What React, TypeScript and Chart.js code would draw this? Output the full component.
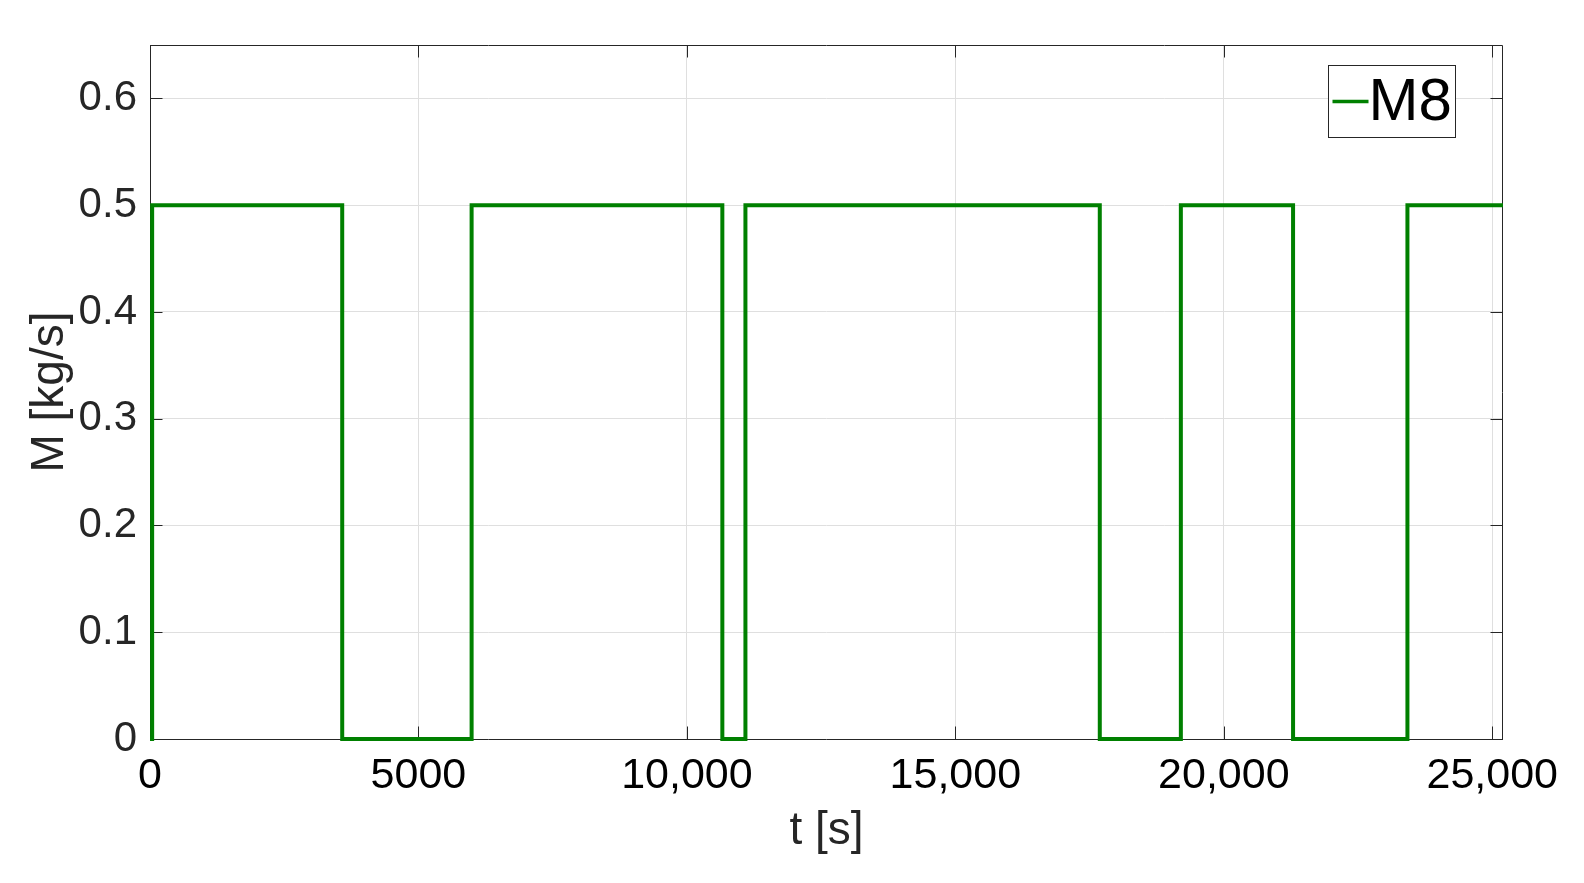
import React, { useEffect, useRef } from 'react';
import { Chart, registerables } from 'chart.js';

Chart.register(...registerables);

// ---- data ----
const seriesName = 'M8';
const times = [0, 40, 3580, 5990, 10660, 11090, 17690, 19200, 21290, 23420, 25200];
const values = [0, 0.5, 0, 0.5, 0, 0.5, 0, 0.5, 0, 0.5, 0.5];
const xTicks = [0, 5000, 10000, 15000, 20000, 25000];
const yTicks = [0, 0.1, 0.2, 0.3, 0.4, 0.5, 0.6];
const xTitle = 't [s]';
const yTitle = 'M [kg/s]';

const FONT = '"Liberation Sans", Arial, Helvetica, sans-serif';
const AXIS_COLOR = '#262626';
const LINE_COLOR = '#008000';

const fmtX = (v: number) => (v >= 10000 ? v.toLocaleString('en-US') : String(v));

const boxPlugin = {
  id: 'matlabBox',
  beforeDatasetsDraw(chart: any) {
    const { ctx, chartArea } = chart;
    const { left, right, top, bottom } = chartArea;
    const xs = chart.scales.x;
    const ys = chart.scales.y;
    const tl = 12.5;
    ctx.save();
    ctx.strokeStyle = AXIS_COLOR;
    ctx.lineWidth = 1;
    ctx.beginPath();
    ctx.rect(Math.round(left) + 0.5, Math.round(top) + 0.5, Math.round(right - left) - 1, Math.round(bottom - top));
    ctx.stroke();
    ctx.beginPath();
    for (const v of xTicks) {
      const px = Math.round(xs.getPixelForValue(v)) + 0.5;
      ctx.moveTo(px, bottom);
      ctx.lineTo(px, bottom - tl);
      ctx.moveTo(px, top);
      ctx.lineTo(px, top + tl);
    }
    for (const v of yTicks) {
      const py = Math.round(ys.getPixelForValue(v)) + 0.5;
      ctx.moveTo(left, py);
      ctx.lineTo(left + tl, py);
      ctx.moveTo(right, py);
      ctx.lineTo(right - tl, py);
    }
    ctx.stroke();
    ctx.restore();
  },
};

const legendPlugin = {
  id: 'matlabLegend',
  afterDraw(chart: any) {
    const { ctx } = chart;
    const ds = chart.data.datasets[0];
    const bx = 1328.5, by = 65.5, bw = 127, bh = 72;
    ctx.save();
    ctx.fillStyle = '#ffffff';
    ctx.fillRect(bx, by, bw, bh);
    ctx.strokeStyle = AXIS_COLOR;
    ctx.lineWidth = 1;
    ctx.strokeRect(bx, by, bw, bh);
    const cy = by + bh / 2;
    ctx.strokeStyle = ds.borderColor;
    ctx.lineWidth = 3.5;
    ctx.beginPath();
    ctx.moveTo(bx + 4, cy);
    ctx.lineTo(bx + 40, cy);
    ctx.stroke();
    ctx.fillStyle = '#000000';
    ctx.font = `60px ${FONT}`;
    ctx.textBaseline = 'middle';
    ctx.textAlign = 'left';
    ctx.fillText(ds.label, bx + 40, cy + 2);
    ctx.restore();
  },
};

export default function App() {
  const ref = useRef<HTMLCanvasElement | null>(null);

  useEffect(() => {
    if (!ref.current) return;
    const chart = new Chart(ref.current, {
      type: 'line',
      data: {
        datasets: [
          {
            label: seriesName,
            data: times.map((t, i) => ({ x: t, y: values[i] })),
            borderColor: LINE_COLOR,
            backgroundColor: LINE_COLOR,
            borderWidth: 4,
            pointRadius: 0,
            stepped: 'before',
            tension: 0,
            borderJoinStyle: 'miter',
            borderCapStyle: 'butt',
            clip: 6,
          } as any,
        ],
      },
      options: {
        animation: false,
        responsive: false,
        maintainAspectRatio: false,
        layout: { padding: { left: 0, top: 45, right: 81, bottom: 0 } },
        plugins: {
          legend: { display: false },
          tooltip: { enabled: false },
        },
        scales: {
          x: {
            type: 'linear',
            min: 0,
            max: 25200,
            afterBuildTicks: (s: any) => {
              s.ticks = xTicks.map((v) => ({ value: v }));
            },
            afterFit: (s: any) => {
              s.height = 144;
            },
            grid: { color: '#dfdfdf', lineWidth: 1, drawTicks: false },
            border: { display: false },
            ticks: {
              color: '#000000',
              font: { family: FONT, size: 43 },
              padding: 11,
              maxRotation: 0,
              autoSkip: false,
              callback: (v: any) => fmtX(Number(v)),
            },
            title: {
              display: true,
              text: xTitle,
              color: AXIS_COLOR,
              font: { family: FONT, size: 46 },
              padding: { top: 0, bottom: 24 },
            },
          },
          y: {
            type: 'linear',
            min: 0,
            max: 0.65,
            afterBuildTicks: (s: any) => {
              s.ticks = yTicks.map((v) => ({ value: v }));
            },
            afterFit: (s: any) => {
              s.width = 150;
            },
            grid: { color: '#dfdfdf', lineWidth: 1, drawTicks: false },
            border: { display: false },
            ticks: {
              color: AXIS_COLOR,
              font: { family: FONT, size: 42 },
              padding: 13,
              autoSkip: false,
              callback: (v: any) => (Number(v) === 0 ? '0' : Number(v).toFixed(1)),
            },
            title: {
              display: true,
              text: yTitle,
              color: AXIS_COLOR,
              font: { family: FONT, size: 46 },
              padding: { top: 23, bottom: 0 },
            },
          },
        },
      },
      plugins: [boxPlugin, legendPlugin],
    });
    return () => chart.destroy();
  }, []);

  return (
    <div style={{ position: 'absolute', left: 0, top: 0, width: 1584, height: 883, background: '#fff' }}>
      <canvas ref={ref} width={1584} height={883} style={{ display: 'block', width: 1584, height: 883 }} />
    </div>
  );
}
